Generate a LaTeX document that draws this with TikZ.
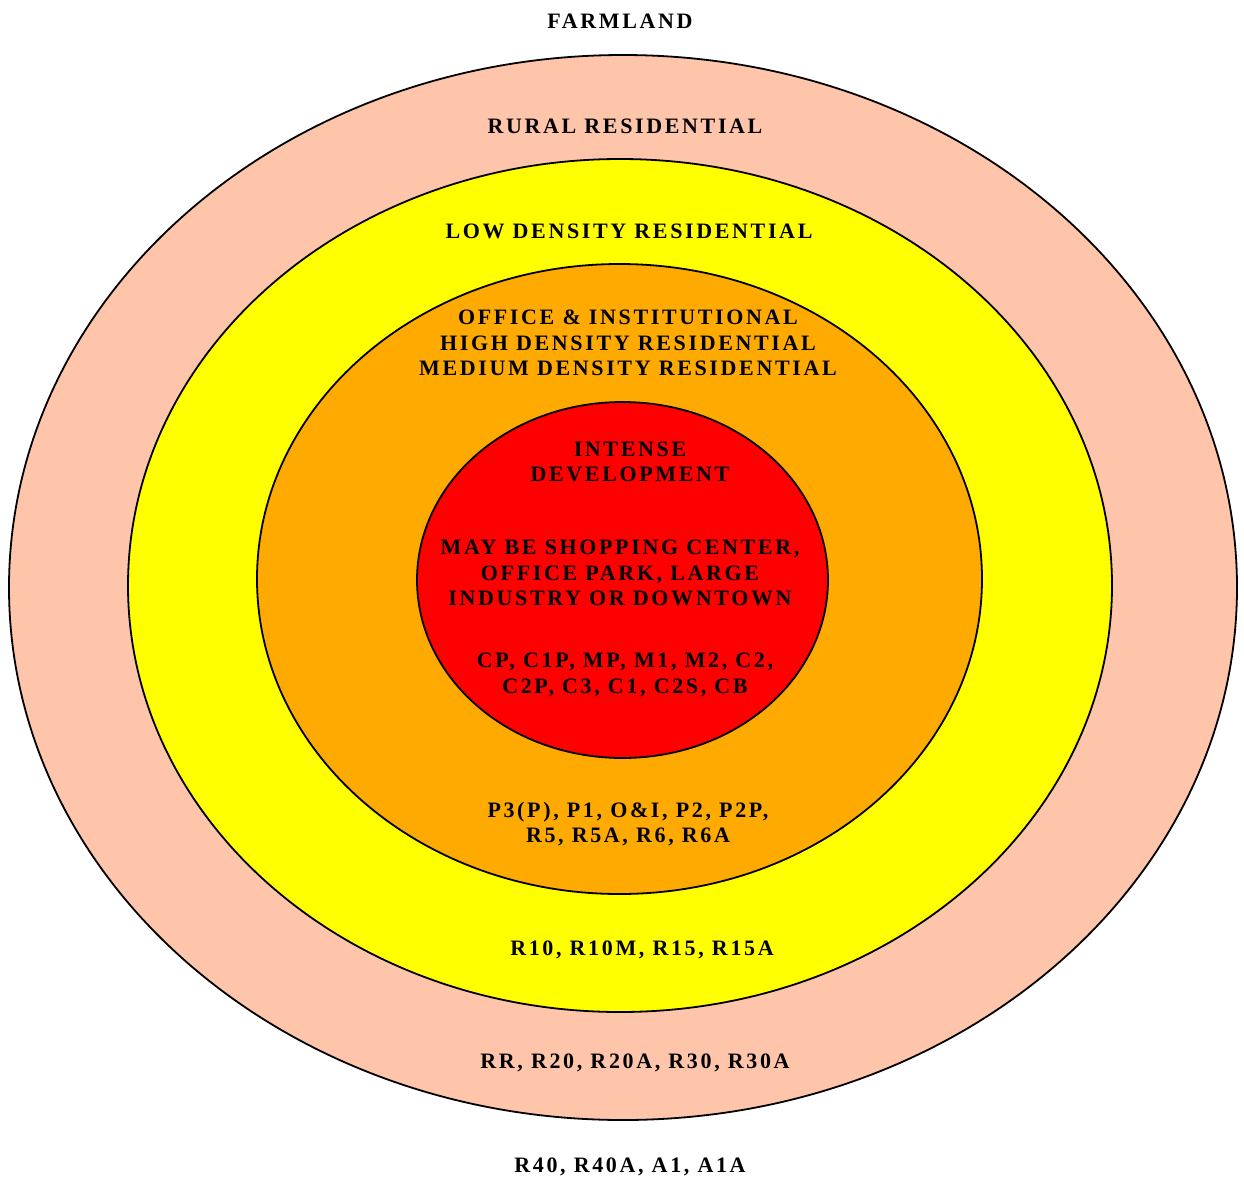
\documentclass[tikz,border=0pt]{standalone}
\usepackage{fontspec}
\newfontfamily\zonefont{Liberation Serif}[LetterSpace=12]
\definecolor{ruralpink}{RGB}{255,197,170}
\definecolor{lowyellow}{RGB}{255,255,0}
\definecolor{officeorange}{RGB}{255,170,0}
\definecolor{intensered}{RGB}{255,0,0}

\begin{document}
\begin{tikzpicture}[x=0.5pt, y=-0.5pt]
    % Define styles
    \tikzstyle{zone} = [draw=black, line width=0.9pt]
    \tikzstyle{zonetext} = [font=\zonefont\bfseries\fontsize{11}{12.8}\selectfont, align=center, inner sep=0pt]

    \useasboundingbox (0,0) rectangle (1244,1180);

    % Rings, outside in
    \draw[zone, fill=ruralpink] (623,587.5) ellipse [x radius=307pt, y radius=266.25pt];
    \draw[zone, fill=lowyellow] (620,585.5) ellipse [x radius=246pt, y radius=213.25pt];
    \draw[zone, fill=officeorange] (619.5,579) ellipse [x radius=181.25pt, y radius=157.5pt];
    \draw[zone, fill=intensered] (622.5,580) ellipse [x radius=102.75pt, y radius=89pt];

    % Nodes
    \node[zonetext] (farm) at (620,21) {FARMLAND};
    \node[zonetext] (rural) at (625,126) {RURAL RESIDENTIAL};
    \node[zonetext] (low) at (629,231) {LOW DENSITY RESIDENTIAL};
    \node[zonetext] (office) at (628,343) {OFFICE \& INSTITUTIONAL\\HIGH DENSITY RESIDENTIAL\\MEDIUM DENSITY RESIDENTIAL};
    \node[zonetext] (intense) at (630,462) {INTENSE\\DEVELOPMENT};
    \node[zonetext] (maybe) at (620,573) {MAY BE SHOPPING CENTER,\\OFFICE PARK, LARGE\\INDUSTRY OR DOWNTOWN};
    \node[zonetext] (czones) at (625,675) {CP, C1P, MP, M1, M2, C2,\\C2P, C3, C1, C2S, CB};
    \node[zonetext] (pzones) at (628,824) {P3(P), P1, O\&I, P2, P2P,\\R5, R5A, R6, R6A};
    \node[zonetext] (lowzones) at (642,950) {R10, R10M, R15, R15A};
    \node[zonetext] (ruralzones) at (635,1063) {RR, R20, R20A, R30, R30A};
    \node[zonetext] (farmzones) at (630,1167) {R40, R40A, A1, A1A};
\end{tikzpicture}
\end{document}
